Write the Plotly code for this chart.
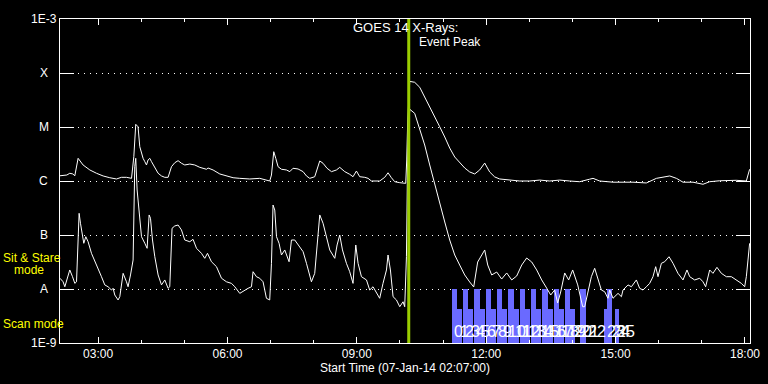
import plotly.graph_objects as go
import pandas as pd
import numpy as np

START = pd.Timestamp("2014-01-07 02:07:00")

# GOES 14 long channel (1-8 A), minutes after start / flux W m^-2
long_t_min = [0, 9.5, 13.6, 17.8, 20.6, 25.2, 32.1, 41.5, 50.8, 60.0,
              69.3, 78.6, 85.5, 92.5, 99.5, 102.7, 105.4, 108.6, 111.0, 113.4,
              115.6, 118.0, 120.3, 122.5, 124.9, 127.3, 131.9, 136.5, 141.2, 145.8,
              150.4, 152.7, 155.1, 159.7, 164.3, 169.0, 173.6, 180.6, 187.5, 194.5,
              203.8, 206.0, 213.0, 222.3, 231.6, 240.8, 250.1, 264.0, 277.9, 291.8,
              294.2, 297.4, 300.2, 303.4, 308.1, 315.1, 319.7, 324.2, 331.2, 338.2,
              342.9, 347.5, 354.4, 357.6, 361.4, 366.0, 371.5, 377.7, 384.6, 389.2,
              396.2, 403.1, 407.7, 412.4, 417.0, 424.0, 428.6, 433.3, 444.8, 451.8,
              456.4, 461.1, 465.7, 472.7, 481.0, 482.4, 483.8, 486.6, 493.5, 500.5,
              507.4, 514.4, 521.4, 528.3, 535.3, 542.2, 549.2, 556.1, 563.1, 570.0,
              577.0, 583.9, 590.9, 597.8, 604.8, 611.7, 625.6, 639.6, 653.5, 667.4,
              681.3, 695.2, 709.1, 723.0, 736.9, 741.6, 750.9, 769.4, 797.2, 815.8,
              829.8, 848.3, 857.6, 866.8, 880.7, 894.6, 903.9, 917.8, 941.0, 954.9,
              957.2, 959.5]
long_flux = [1.25e-6, 1.29e-6, 1.39e-6, 1.35e-6, 1.25e-6, 2.63e-6, 1.98e-6, 1.6e-6, 1.39e-6, 1.24e-6,
             1.15e-6, 1.09e-6, 1.17e-6, 1.17e-6, 1.12e-6, 2.82e-6, 1.12e-5, 1.01e-5, 4.32e-6, 3.26e-6,
             2.63e-6, 2.28e-6, 1.98e-6, 2.45e-6, 2.63e-6, 2.28e-6, 1.72e-6, 1.39e-6, 1.24e-6, 1.17e-6,
             1.17e-6, 1.49e-6, 1.84e-6, 2.18e-6, 2.38e-6, 2.13e-6, 1.98e-6, 2.06e-6, 1.98e-6, 1.79e-6,
             1.65e-6, 1.74e-6, 1.6e-6, 1.35e-6, 1.24e-6, 1.15e-6, 1.12e-6, 1.09e-6, 1.12e-6, 1.0e-6,
             1.29e-6, 3.49e-6, 2.63e-6, 1.84e-6, 1.65e-6, 1.6e-6, 1.49e-6, 1.72e-6, 1.67e-6, 1.49e-6,
             1.24e-6, 1.12e-6, 1.20e-6, 1.6e-6, 2.35e-6, 2.13e-6, 1.72e-6, 1.49e-6, 1.6e-6, 1.79e-6,
             1.49e-6, 1.33e-6, 1.20e-6, 1.53e-6, 1.2e-6, 1.17e-6, 1.12e-6, 1.0e-6, 1.0e-6, 1.17e-6,
             1.42e-6, 1.15e-6, 0.97e-6, 0.93e-6, 0.906e-6, 2.45e-6, 1.35e-5, 7.0e-5, 6.73e-5, 5.44e-5,
             3.64e-5, 2.38e-5, 1.55e-5, 1.01e-5, 6.53e-6, 4.08e-6, 2.78e-6, 2.15e-6, 1.74e-6, 1.47e-6,
             1.35e-6, 1.6e-6, 2.15e-6, 1.47e-6, 1.19e-6, 1.09e-6, 1.04e-6, 1.0e-6, 1.0e-6, 1.04e-6,
             1.0e-6, 1.04e-6, 1.0e-6, 0.97e-6, 1.08e-6, 1.12e-6, 1.0e-6, 0.95e-6, 0.95e-6, 0.92e-6,
             1.12e-6, 1.24e-6, 1.12e-6, 0.95e-6, 0.95e-6, 0.87e-6, 0.97e-6, 1.01e-6, 1.03e-6, 1.0e-6,
             1.29e-6, 1.65e-6]

# GOES 14 short channel (0.5-4 A)
short_t_min = [0, 4.3, 6.7, 11.3, 13.6, 17.4, 20.6, 23.0, 25.2, 26.6,
               28.5, 31.3, 33.1, 35.9, 39.1, 43.8, 48.4, 53.0, 57.7, 62.3,
               66.9, 71.6, 73.9, 76.2, 80.8, 83.2, 87.8, 92.5, 94.7, 98.1,
               101.7, 104.0, 105.4, 107.3, 109.6, 113.4, 118.0, 121.2, 124.0, 125.9,
               128.7, 131.9, 136.5, 141.2, 145.8, 150.4, 152.7, 155.9, 159.7, 164.3,
               169.0, 173.6, 180.6, 185.1, 189.9, 196.8, 201.4, 205.2, 210.7, 217.7,
               224.7, 231.6, 238.6, 243.2, 250.1, 257.1, 261.7, 266.4, 268.6, 273.3,
               277.9, 282.5, 287.2, 291.8, 294.2, 296.4, 298.8, 301.2, 304.8, 308.1,
               312.7, 318.7, 322.0, 326.6, 331.2, 338.2, 342.9, 349.8, 354.4, 357.6,
               361.4, 366.0, 370.7, 375.3, 382.3, 385.5, 389.2, 393.0, 398.5, 403.1,
               407.7, 411.5, 414.7, 419.4, 426.4, 430.9, 435.5, 440.3, 444.8, 449.4,
               454.2, 456.4, 459.7, 463.4, 468.1, 472.7, 477.3, 479.6, 482.0, 483.8,
               486.6, 493.5, 498.1, 500.5, 507.4, 514.4, 521.4, 528.3, 535.3, 542.2,
               549.2, 556.1, 563.1, 570.0, 575.6, 581.1, 586.7, 590.9, 595.1, 600.6,
               607.6, 614.5, 621.5, 628.5, 635.4, 642.4, 649.3, 656.3, 663.2, 670.2,
               677.1, 682.7, 688.2, 692.4, 696.6, 702.2, 707.7, 713.3, 720.3, 727.2,
               730.0, 734.6, 739.3, 743.9, 748.5, 753.2, 757.8, 762.4, 764.8, 769.4,
               776.4, 781.1, 783.3, 790.3, 795.0, 801.9, 806.5, 811.1, 815.8, 820.4,
               825.0, 828.8, 832.0, 836.7, 841.3, 847.3, 852.9, 859.8, 866.8, 872.3,
               876.1, 883.0, 890.0, 894.6, 898.3, 903.9, 908.5, 914.0, 920.2, 927.1,
               934.1, 941.0, 948.0, 952.6, 954.9, 957.2, 959.5]
short_flux = [1.58e-8, 1.36e-8, 1.10e-8, 1.69e-8, 2.25e-8, 1.69e-8, 1.27e-8, 1.36e-8, 8.08e-8, 2.52e-7,
              1.65e-7, 1.08e-7, 7.02e-8, 9.3e-8, 7.51e-8, 4.58e-8, 3.2e-8, 2.25e-8, 1.69e-8, 1.19e-8,
              1.10e-8, 0.958e-8, 1.03e-8, 0.774e-8, 0.626e-8, 0.72e-8, 1.95e-8, 1.36e-8, 1.10e-8, 1.82e-8,
              3.44e-8, 1.84e-6, 2.63e-6, 6.81e-7, 2.9e-7, 9.3e-8, 7.02e-8, 5.67e-8, 2.35e-7, 2.04e-7,
              8.08e-8, 3.96e-8, 1.82e-8, 1.19e-8, 1.47e-8, 1.03e-8, 1.10e-8, 1.33e-7, 1.47e-7, 1.53e-7,
              1.24e-7, 8.08e-8, 7.51e-8, 8.32e-8, 5.67e-8, 4.58e-8, 3.7e-8, 4.58e-8, 3.2e-8, 2.59e-8,
              1.58e-8, 1.36e-8, 1.27e-8, 1.10e-8, 0.83e-8, 0.958e-8, 1.03e-8, 1.10e-8, 2.09e-8, 1.69e-8,
              1.58e-8, 1.36e-8, 0.673e-8, 0.626e-8, 2.99e-8, 3.59e-7, 2.9e-7, 9.3e-8, 7.02e-8, 4.26e-8,
              5.28e-8, 3.2e-8, 8.08e-8, 8.08e-8, 6.53e-8, 4.91e-8, 2.99e-8, 1.36e-8, 1.95e-8, 7.02e-8,
              2.35e-7, 1.65e-7, 9.3e-8, 5.28e-8, 3.7e-8, 6.53e-8, 1.0e-7, 5.28e-8, 2.99e-8, 2.09e-8,
              1.27e-8, 6.53e-8, 2.99e-8, 1.69e-8, 1.47e-8, 0.958e-8, 1.10e-8, 0.83e-8, 0.673e-8, 1.27e-8,
              2.25e-8, 4.26e-8, 2.25e-8, 0.72e-8, 0.626e-8, 0.47e-8, 0.58e-8, 0.47e-8, 3.96e-8, 3.75e-6,
              2.13e-5, 1.79e-5, 1.17e-5, 0.946e-5, 4.64e-6, 1.98e-6, 8.43e-7, 3.59e-7, 1.74e-7, 8.08e-8,
              4.26e-8, 2.78e-8, 1.82e-8, 1.35e-8, 1.09e-8, 3.16e-8, 4.26e-8, 5.28e-8, 2.78e-8, 1.82e-8,
              2.06e-8, 1.53e-8, 1.98e-8, 1.47e-8, 1.74e-8, 2.78e-8, 3.75e-8, 3.16e-8, 2.25e-8, 1.47e-8,
              1.04e-8, 0.774e-8, 0.958e-8, 0.55e-8, 0.88e-8, 1.98e-8, 1.47e-8, 2.25e-8, 1.19e-8, 0.47e-8,
              0.47e-8, 0.958e-8, 1.69e-8, 2.42e-8, 1.47e-8, 0.958e-8, 0.89e-8, 0.673e-8, 0.958e-8, 0.673e-8,
              0.83e-8, 0.72e-8, 0.958e-8, 1.19e-8, 1.10e-8, 1.47e-8, 1.03e-8, 0.958e-8, 1.10e-8, 1.27e-8,
              1.69e-8, 2.59e-8, 1.69e-8, 2.99e-8, 3.2e-8, 3.96e-8, 2.99e-8, 1.95e-8, 1.47e-8, 2.25e-8,
              1.69e-8, 1.47e-8, 1.58e-8, 1.36e-8, 1.10e-8, 2.25e-8, 1.95e-8, 2.52e-8, 1.95e-8, 1.69e-8,
              1.69e-8, 1.47e-8, 1.27e-8, 1.10e-8, 1.69e-8, 3.44e-8, 7.02e-8]

EVENT_PEAK_MIN = 485.2

# observation blocks (minutes after start) and their mode level
obs_start_min = [545.0, 552.4, 560.7, 568.2, 576.6, 584.0, 592.3, 599.7, 608.0, 615.5,
                 623.9, 631.2, 639.6, 647.0, 655.3, 662.8, 671.2, 678.5, 686.9, 694.3,
                 702.6, 710.1, 723.1, 756.9, 761.6, 771.8]
obs_end_min = [552.4, 559.3, 568.2, 575.2, 584.0, 590.9, 599.7, 606.6, 615.5, 622.5,
               631.2, 638.2, 647.0, 653.9, 662.8, 669.8, 678.5, 685.5, 694.3, 701.2,
               710.1, 717.1, 732.4, 761.6, 768.0, 777.7]
obs_top_flux = [1e-8, 4.2e-9, 1e-8, 4.2e-9, 1e-8, 4.2e-9, 1e-8, 4.2e-9, 1e-8, 4.2e-9,
                1e-8, 4.2e-9, 1e-8, 4.2e-9, 1e-8, 4.2e-9, 1e-8, 4.2e-9, 1e-8, 4.2e-9,
                1e-8, 4.2e-9, 1e-8, 4.2e-9, 1e-8, 4.2e-9]

# raster number labels and their start times (minutes after start)
raster_labels = ["0", "1", "2", "3", "4", "5", "6", "7", "8", "9", "10", "11", "12",
                 "13", "14", "15", "16", "17", "18", "19", "20", "21", "22", "23", "24", "25"]
raster_label_min = [546.0, 553.5, 561.0, 568.5, 576.0, 583.5, 591.0, 598.6, 606.1, 613.6,
                    621.1, 630.3, 639.5, 648.6, 657.8, 667.0, 676.2, 685.4, 694.5, 703.7,
                    712.9, 722.1, 731.3, 757.8, 764.8, 771.7]

ytick_vals = [1e-9, 1e-8, 1e-7, 1e-6, 1e-5, 1e-4, 1e-3]
ytick_text = ["1E-9", "A", "B", "C", "M", "X", "1E-3"]

FONT = "Liberation Sans"
NUM_FONT = "Liberation Sans Narrow, Liberation Sans"


def tm(mins):
    return [START + pd.Timedelta(minutes=float(m)) for m in mins]


fig = go.Figure()

fig.add_trace(go.Bar(
    x=[START + pd.Timedelta(minutes=(s + e) / 2) for s, e in zip(obs_start_min, obs_end_min)],
    y=[t - 1e-9 for t in obs_top_flux],
    base=[1e-9] * len(obs_top_flux),
    width=[(e - s) * 60000 for s, e in zip(obs_start_min, obs_end_min)],
    marker=dict(color="#6a6aff", line=dict(width=0)),
    hoverinfo="skip", showlegend=False))

fig.add_trace(go.Scatter(x=tm(long_t_min), y=long_flux, mode="lines",
                         line=dict(color="white", width=1), showlegend=False))
fig.add_trace(go.Scatter(x=tm(short_t_min), y=short_flux, mode="lines",
                         line=dict(color="white", width=1), showlegend=False))

peak_time = START + pd.Timedelta(minutes=EVENT_PEAK_MIN)
fig.add_shape(type="line", x0=peak_time, x1=peak_time, y0=0, y1=1,
              xref="x", yref="paper", line=dict(color="#9acd00", width=3))

annotations = []
for v, t in zip(ytick_vals, ytick_text):
    annotations.append(dict(x=-0.0232, xref="paper", y=np.log10(v), yref="y", text=t,
                            showarrow=False, xanchor="center", yanchor="middle",
                            font=dict(color="white", size=12, family=FONT)))

annotations.append(dict(x=peak_time, y=-3.435, xref="x", yref="y", text="Event Peak",
                        showarrow=False, xanchor="left", yanchor="middle", xshift=8,
                        font=dict(color="white", size=12, family=FONT)))

for s, lab in zip(raster_label_min, raster_labels):
    annotations.append(dict(x=START + pd.Timedelta(minutes=s), y=-8.787, xref="x", yref="y",
                            text=lab, showarrow=False, xanchor="left", yanchor="middle",
                            font=dict(color="white", size=16, family=NUM_FONT)))

yellow = dict(color="#ffff00", size=12, family=FONT)
annotations.append(dict(x=-0.086, xref="paper", y=0.262, yref="paper", text="Sit & Stare",
                        showarrow=False, xanchor="left", yanchor="middle", font=yellow))
annotations.append(dict(x=-0.070, xref="paper", y=0.224, yref="paper", text="mode",
                        showarrow=False, xanchor="left", yanchor="middle", font=yellow))
annotations.append(dict(x=-0.086, xref="paper", y=0.059, yref="paper", text="Scan mode",
                        showarrow=False, xanchor="left", yanchor="middle", font=yellow))

annotations.append(dict(x=0.5, xref="paper", y=1 - 10.0 / 384, yref="paper", text="GOES 14 X-Rays:",
                        showarrow=False, xanchor="center", yanchor="middle",
                        font=dict(color="white", size=13, family=FONT)))

fig.update_layout(
    template="none",
    width=768, height=384, autosize=False,
    paper_bgcolor="black", plot_bgcolor="black",
    margin=dict(l=60, r=18, t=19, b=41, pad=0, autoexpand=False),
    bargap=0, barmode="overlay",
    annotations=annotations,
    font=dict(family=FONT, color="white", size=12),
    xaxis=dict(
        type="date", automargin=False,
        range=[START, START + pd.Timedelta(minutes=960)],
        tick0="2014-01-07 00:00:00", dtick=3 * 3600000, tickformat="%H:%M",
        ticks="inside", ticklen=6, tickwidth=1, tickcolor="white",
        minor=dict(dtick=3600000, ticks="inside", ticklen=3, tickcolor="white", tickwidth=1,
                   showgrid=False),
        showline=True, linecolor="white", linewidth=1, mirror="allticks",
        showgrid=False, zeroline=False,
        tickfont=dict(color="white", size=12, family=FONT),
        title=dict(text="Start Time (07-Jan-14 02:07:00)", standoff=1,
                   font=dict(color="white", size=12, family=FONT)),
    ),
    yaxis=dict(
        type="log", range=[-9, -3], automargin=False,
        tickvals=ytick_vals, showticklabels=False,
        ticks="inside", ticklen=14, tickwidth=1, tickcolor="white",
        showline=True, linecolor="white", linewidth=1, mirror="allticks",
        showgrid=True, gridcolor="white", gridwidth=1, griddash="1px,5px",
        zeroline=False,
    ),
)

fig.write_html("out.html", config={"displayModeBar": False},
               post_script="document.body.style.margin='0px';document.body.style.background='black';")
